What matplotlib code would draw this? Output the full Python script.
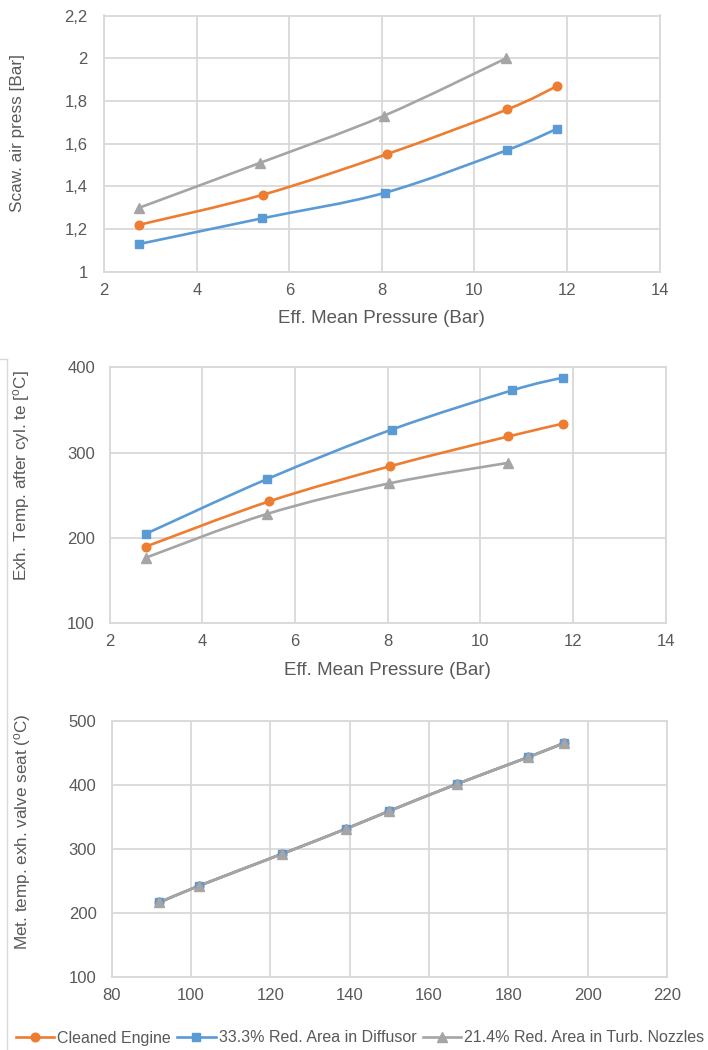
import matplotlib
matplotlib.use('Agg')
import matplotlib.pyplot as plt
from matplotlib.path import Path
from matplotlib.patches import PathPatch
from matplotlib.lines import Line2D
from matplotlib.ticker import FuncFormatter, MultipleLocator
import numpy as np

plt.rcParams['font.family'] = ['Liberation Sans', 'DejaVu Sans']
plt.rcParams['mathtext.fontset'] = 'custom'
plt.rcParams['mathtext.rm'] = 'Liberation Sans'
plt.rcParams['mathtext.it'] = 'Liberation Sans:italic'

# ---------------- data ----------------
series_names = ['Cleaned Engine', '33.3% Red. Area in Diffusor', '21.4% Red. Area in Turb. Nozzles']

# Panel 1: scavenge air pressure vs effective mean pressure
p1_x_cleaned = [2.76, 5.42, 8.10, 10.71, 11.79]
p1_y_cleaned = [1.22, 1.36, 1.55, 1.76, 1.87]
p1_x_diffusor = [2.76, 5.41, 8.07, 10.71, 11.79]
p1_y_diffusor = [1.13, 1.25, 1.37, 1.57, 1.67]
p1_x_nozzles = [2.76, 5.37, 8.04, 10.69]
p1_y_nozzles = [1.30, 1.51, 1.73, 2.00]

# Panel 2: exhaust temperature after cylinder vs effective mean pressure
p2_x_cleaned = [2.79, 5.45, 8.05, 10.61, 11.79]
p2_y_cleaned = [190, 243, 284, 319, 334]
p2_x_diffusor = [2.79, 5.40, 8.09, 10.69, 11.79]
p2_y_diffusor = [205, 269, 327, 373, 388]
p2_x_nozzles = [2.79, 5.39, 8.04, 10.60]
p2_y_nozzles = [177, 228, 264, 288]

# Panel 3: metal temperature of exhaust valve seat (identical for all three)
p3_x_cleaned = [92, 102, 123, 139, 150, 167, 185, 194]
p3_y_cleaned = [216, 242, 292, 331, 359, 401, 443, 465]
p3_x_diffusor = [92, 102, 123, 139, 150, 167, 185, 194]
p3_y_diffusor = [216, 242, 292, 331, 359, 401, 443, 465]
p3_x_nozzles = [92, 102, 123, 139, 150, 167, 185, 194]
p3_y_nozzles = [216, 242, 292, 331, 359, 401, 443, 465]

# ---------------- style ----------------
colors = ['#ED7D31', '#5B9BD5', '#A5A5A5']
markers = ['o', 's', '^']
msizes = [6.2, 6.2, 6.8]
grid_c = '#D9D9D9'
txt_c = '#595959'
TICK_FS = 12
XT_FS = 13.5
YT_FS = 12.3

W, H = 708, 1050
fig = plt.figure(figsize=(W / 100, H / 100), dpi=100)


def ax_at(l, r, t, b):
    return fig.add_axes([l / W, 1 - b / H, (r - l) / W, (b - t) / H])


def smooth_line(ax, x, y, color):
    pts = np.column_stack([x, y]).astype(float)
    n = len(pts)
    verts = [pts[0]]
    codes = [Path.MOVETO]
    for i in range(n - 1):
        p0 = pts[i - 1] if i > 0 else pts[i]
        p1 = pts[i]
        p2 = pts[i + 1]
        p3 = pts[i + 2] if i + 2 < n else pts[i + 1]
        verts += [p1 + (p2 - p0) / 6.0, p2 - (p3 - p1) / 6.0, p2]
        codes += [Path.CURVE4] * 3
    ax.add_patch(PathPatch(Path(verts, codes), facecolor='none', edgecolor=color,
                           lw=1.9, capstyle='round', joinstyle='round', zorder=3))


def draw_series(ax, xs, ys):
    for i, (x, y) in enumerate(zip(xs, ys)):
        smooth_line(ax, x, y, colors[i])
        ax.plot(x, y, linestyle='none', marker=markers[i], ms=msizes[i],
                color=colors[i], mec=colors[i], zorder=4 + i)


def style_ax(ax, xlim, ylim, xstep, ystep, yfmt=None, ypad=11):
    ax.set_xlim(*xlim)
    ax.set_ylim(*ylim)
    ax.xaxis.set_major_locator(MultipleLocator(xstep))
    ax.yaxis.set_major_locator(MultipleLocator(ystep))
    ax.grid(True, color=grid_c, lw=1.3, zorder=0)
    ax.set_axisbelow(True)
    for s in ax.spines.values():
        s.set_color(grid_c)
        s.set_linewidth(1.3)
    ax.tick_params(length=0, labelsize=TICK_FS, colors=txt_c)
    ax.tick_params(axis='x', pad=8)
    ax.tick_params(axis='y', pad=ypad)
    if yfmt is not None:
        ax.yaxis.set_major_formatter(FuncFormatter(yfmt))


def comma_fmt(v, pos):
    return ('%g' % round(v, 2)).replace('.', ',')


# Panel 1
ax1 = ax_at(104.3, 659.5, 15.5, 271.7)
draw_series(ax1, [p1_x_cleaned, p1_x_diffusor, p1_x_nozzles],
            [p1_y_cleaned, p1_y_diffusor, p1_y_nozzles])
style_ax(ax1, (2, 14), (1, 2.2), 2, 0.2, comma_fmt, ypad=12)
ax1.set_xlabel('Eff. Mean Pressure (Bar)', fontsize=XT_FS, color=txt_c, labelpad=9)
ax1.set_ylabel('Scaw. air press [Bar]', fontsize=YT_FS, color=txt_c)
ax1.yaxis.set_label_coords(25 / W, 1 - 133 / H, transform=fig.transFigure)

# Panel 2
ax2 = ax_at(109.5, 665.5, 367.3, 623.3)
draw_series(ax2, [p2_x_cleaned, p2_x_diffusor, p2_x_nozzles],
            [p2_y_cleaned, p2_y_diffusor, p2_y_nozzles])
style_ax(ax2, (2, 14), (100, 400), 2, 100, ypad=10.5)
ax2.set_xlabel('Eff. Mean Pressure (Bar)', fontsize=XT_FS, color=txt_c, labelpad=9)
ax2.set_ylabel(r'Exh. Temp. after cyl. te [$^{\mathrm{o}}$C]', fontsize=YT_FS, color=txt_c)
ax2.yaxis.set_label_coords(32 / W, 1 - 476 / H, transform=fig.transFigure)

# Panel 3
ax3 = ax_at(111.8, 667, 720.7, 976.7)
draw_series(ax3, [p3_x_cleaned, p3_x_diffusor, p3_x_nozzles],
            [p3_y_cleaned, p3_y_diffusor, p3_y_nozzles])
style_ax(ax3, (80, 220), (100, 500), 20, 100, ypad=11)
ax3.set_ylabel(r'Met. temp. exh. valve seat ($^{\mathrm{o}}$C)', fontsize=YT_FS, color=txt_c)
ax3.yaxis.set_label_coords(33 / W, 1 - 832 / H, transform=fig.transFigure)

# Legend
handles = [Line2D([0], [0], color=colors[i], lw=1.9, marker=markers[i], ms=msizes[i])
           for i in range(3)]
fig.legend(handles, series_names, loc='center', bbox_to_anchor=(360 / W, 1 - 1038 / H),
           ncol=3, frameon=False, fontsize=11.5, handlelength=2.4, handletextpad=0.2,
           columnspacing=0.4, labelcolor=txt_c)

# left border fragments of the embedded chart frames
fig.add_artist(Line2D([7 / W, 7 / W], [0, 1 - 359 / H], transform=fig.transFigure,
                      color=grid_c, lw=1.0))
fig.add_artist(Line2D([0, 7 / W], [1 - 359 / H, 1 - 359 / H], transform=fig.transFigure,
                      color=grid_c, lw=1.0))

fig.savefig('out.png', dpi=100)
